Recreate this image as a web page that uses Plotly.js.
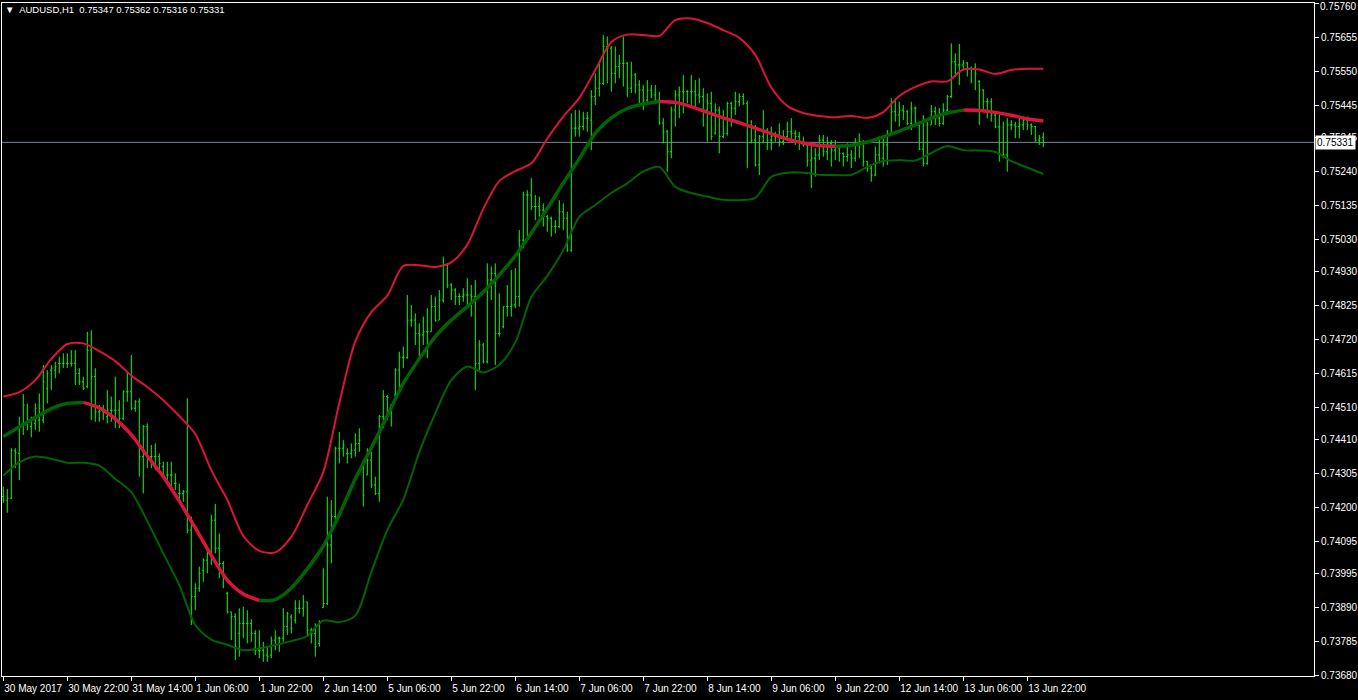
<!DOCTYPE html>
<html><head><meta charset="utf-8">
<script src="https://cdn.plot.ly/plotly-3.0.1.min.js"></script>
<style>html,body{margin:0;padding:0;background:#000;overflow:hidden}#chart{width:1358px;height:700px}</style>
</head><body><div id="chart"></div>
<script>
// ---- time axis (H1 bars, index 0 = 30 May 2017 06:00) ----
const tickLabels = ["30 May 2017","30 May 22:00","31 May 14:00","1 Jun 06:00","1 Jun 22:00","2 Jun 14:00","5 Jun 06:00","5 Jun 22:00","6 Jun 14:00","7 Jun 06:00","7 Jun 22:00","8 Jun 14:00","9 Jun 06:00","9 Jun 22:00","12 Jun 14:00","13 Jun 06:00","13 Jun 22:00"];
const tickBars = [0,16,32,48,64,80,96,112,128,144,160,176,192,208,224,240,256];

// ---- price axis ----
const priceTicks = [0.75760,0.75655,0.75550,0.75445,0.75345,0.75240,0.75135,0.75030,0.74930,0.74825,0.74720,0.74615,0.74510,0.74410,0.74305,0.74200,0.74095,0.73995,0.73890,0.73785,0.73680];
const lastPrice = 0.75331;
const headerText = "AUDUSD,H1  0.75347 0.75362 0.75316 0.75331";

// ---- OHLC ----
const open = [
0.74233,0.74222,0.74228,0.74375,0.74367,0.74455,0.74460,0.74450,0.74460,0.74470,
0.74470,0.74567,0.74625,0.74625,0.74646,0.74646,0.74646,0.74646,0.74646,0.74615,
0.74589,0.74574,0.74687,0.74605,0.74496,0.74496,0.74481,0.74501,0.74501,0.74501,
0.74476,0.74558,0.74558,0.74507,0.74527,0.74357,0.74450,0.74357,0.74357,0.74357,
0.74326,0.74300,0.74300,0.74274,0.74243,0.74243,0.74248,0.74129,0.73923,0.73949,
0.74005,0.74036,0.74057,0.74160,0.74073,0.74026,0.73933,0.73876,0.73861,0.73809,
0.73840,0.73840,0.73840,0.73809,0.73757,0.73757,0.73742,0.73742,0.73788,0.73794,
0.73794,0.73830,0.73860,0.73850,0.73887,0.73887,0.73907,0.73819,0.73809,0.73778,
0.73890,0.73902,0.74083,0.74171,0.74383,0.74383,0.74367,0.74367,0.74377,0.74398,
0.74341,0.74300,0.74346,0.74269,0.74243,0.74481,0.74543,0.74517,0.74548,0.74625,
0.74665,0.74665,0.74780,0.74780,0.74739,0.74734,0.74744,0.74744,0.74822,0.74780,
0.74842,0.74951,0.74889,0.74873,0.74853,0.74853,0.74858,0.74858,0.74853,0.74646,
0.74703,0.74651,0.74904,0.74925,0.74739,0.74760,0.74822,0.74822,0.74827,0.74853,
0.75028,0.75168,0.75168,0.75132,0.75132,0.75121,0.75101,0.75096,0.75070,0.75070,
0.75116,0.75096,0.74997,0.75375,0.75375,0.75380,0.75406,0.75400,0.75473,0.75499,
0.75514,0.75628,0.75623,0.75545,0.75566,0.75576,0.75576,0.75499,0.75540,0.75509,
0.75493,0.75462,0.75493,0.75478,0.75462,0.75391,0.75364,0.75302,0.75431,0.75478,
0.75488,0.75488,0.75488,0.75488,0.75478,0.75473,0.75431,0.75452,0.75360,0.75431,
0.75349,0.75359,0.75452,0.75437,0.75457,0.75473,0.75452,0.75380,0.75338,0.75261,
0.75350,0.75369,0.75338,0.75349,0.75349,0.75333,0.75349,0.75364,0.75359,0.75349,
0.75328,0.75323,0.75276,0.75282,0.75292,0.75338,0.75302,0.75328,0.75307,0.75314,
0.75297,0.75287,0.75292,0.75282,0.75323,0.75333,0.75271,0.75251,0.75230,0.75292,
0.75282,0.75323,0.75359,0.75426,0.75416,0.75431,0.75426,0.75390,0.75437,0.75385,
0.75310,0.75266,0.75385,0.75426,0.75406,0.75390,0.75431,0.75473,0.75581,0.75571,
0.75571,0.75577,0.75561,0.75561,0.75520,0.75493,0.75457,0.75457,0.75416,0.75379,
0.75292,0.75292,0.75385,0.75385,0.75380,0.75385,0.75400,0.75385,0.75380,0.75338,
0.75347];
const high = [
0.74264,0.74257,0.74383,0.74383,0.74481,0.74551,0.74522,0.74481,0.74522,0.74553,
0.74641,0.74625,0.74641,0.74651,0.74667,0.74677,0.74677,0.74687,0.74687,0.74631,
0.74605,0.74744,0.74749,0.74631,0.74517,0.74517,0.74563,0.74543,0.74605,0.74532,
0.74563,0.74620,0.74672,0.74532,0.74538,0.74455,0.74460,0.74393,0.74398,0.74367,
0.74341,0.74341,0.74341,0.74305,0.74274,0.74253,0.74538,0.74171,0.73964,0.74016,
0.74042,0.74078,0.74176,0.74210,0.74119,0.74033,0.73938,0.73876,0.73871,0.73887,
0.73892,0.73881,0.73853,0.73819,0.73819,0.73783,0.73768,0.73799,0.73819,0.73799,
0.73887,0.73876,0.73868,0.73912,0.73912,0.73928,0.73907,0.73826,0.73840,0.73850,
0.74011,0.74233,0.74222,0.74388,0.74434,0.74408,0.74383,0.74398,0.74429,0.74445,
0.74346,0.74383,0.74372,0.74295,0.74486,0.74563,0.74548,0.74520,0.74631,0.74682,
0.74698,0.74858,0.74827,0.74801,0.74770,0.74791,0.74817,0.74858,0.74853,0.74873,
0.74977,0.74956,0.74895,0.74879,0.74863,0.74879,0.74910,0.74889,0.74904,0.74718,
0.74709,0.74956,0.74946,0.74956,0.74863,0.74822,0.74889,0.74935,0.74941,0.75059,
0.75178,0.75183,0.75220,0.75168,0.75163,0.75142,0.75106,0.75101,0.75090,0.75152,
0.75142,0.75116,0.75421,0.75431,0.75431,0.75426,0.75426,0.75493,0.75545,0.75576,
0.75664,0.75659,0.75630,0.75628,0.75602,0.75659,0.75580,0.75581,0.75546,0.75524,
0.75509,0.75524,0.75509,0.75509,0.75488,0.75406,0.75369,0.75442,0.75493,0.75504,
0.75540,0.75493,0.75540,0.75524,0.75530,0.75499,0.75483,0.75488,0.75452,0.75442,
0.75431,0.75457,0.75457,0.75488,0.75483,0.75483,0.75460,0.75400,0.75385,0.75354,
0.75431,0.75375,0.75380,0.75364,0.75390,0.75369,0.75395,0.75406,0.75369,0.75364,
0.75349,0.75326,0.75323,0.75313,0.75354,0.75354,0.75349,0.75338,0.75338,0.75318,
0.75300,0.75328,0.75307,0.75344,0.75359,0.75338,0.75274,0.75261,0.75318,0.75349,
0.75344,0.75369,0.75468,0.75468,0.75457,0.75447,0.75431,0.75457,0.75442,0.75390,
0.75416,0.75395,0.75447,0.75442,0.75437,0.75452,0.75478,0.75638,0.75607,0.75636,
0.75586,0.75580,0.75566,0.75576,0.75524,0.75496,0.75468,0.75468,0.75421,0.75416,
0.75395,0.75406,0.75400,0.75395,0.75406,0.75411,0.75411,0.75390,0.75382,0.75354,
0.75362];
const low = [
0.74214,0.74183,0.74226,0.74321,0.74284,0.74424,0.74439,0.74417,0.74439,0.74434,
0.74460,0.74522,0.74563,0.74600,0.74615,0.74631,0.74631,0.74636,0.74579,0.74579,
0.74563,0.74569,0.74470,0.74465,0.74465,0.74470,0.74460,0.74465,0.74445,0.74445,
0.74470,0.74527,0.74501,0.74496,0.74295,0.74243,0.74321,0.74321,0.74315,0.74310,
0.74295,0.74274,0.74264,0.74253,0.74217,0.74217,0.74119,0.73835,0.73881,0.73938,
0.73969,0.73995,0.74021,0.74057,0.73980,0.73949,0.73871,0.73788,0.73726,0.73737,
0.73794,0.73778,0.73783,0.73742,0.73732,0.73721,0.73721,0.73732,0.73757,0.73752,
0.73783,0.73804,0.73809,0.73840,0.73871,0.73861,0.73804,0.73778,0.73737,0.73768,
0.73887,0.73897,0.74026,0.74160,0.74336,0.74357,0.74336,0.74352,0.74357,0.74372,
0.74202,0.74300,0.74259,0.74238,0.74217,0.74445,0.74470,0.74450,0.74532,0.74563,
0.74631,0.74660,0.74760,0.74703,0.74669,0.74703,0.74662,0.74744,0.74775,0.74780,
0.74835,0.74879,0.74842,0.74827,0.74827,0.74837,0.74827,0.74791,0.74563,0.74625,
0.74646,0.74646,0.74842,0.74641,0.74729,0.74755,0.74791,0.74791,0.74817,0.74822,
0.75003,0.75039,0.75121,0.75090,0.75101,0.75070,0.75054,0.75039,0.75049,0.75065,
0.75059,0.74992,0.74992,0.75349,0.75349,0.75369,0.75364,0.75307,0.75447,0.75473,
0.75509,0.75514,0.75488,0.75514,0.75530,0.75504,0.75472,0.75484,0.75483,0.75452,
0.75431,0.75455,0.75468,0.75457,0.75385,0.75328,0.75240,0.75282,0.75380,0.75406,
0.75421,0.75452,0.75442,0.75442,0.75452,0.75380,0.75333,0.75338,0.75355,0.75297,
0.75344,0.75352,0.75380,0.75416,0.75442,0.75447,0.75251,0.75328,0.75256,0.75230,
0.75328,0.75307,0.75307,0.75333,0.75318,0.75323,0.75338,0.75333,0.75323,0.75307,
0.75318,0.75256,0.75189,0.75225,0.75276,0.75287,0.75276,0.75256,0.75276,0.75271,
0.75256,0.75271,0.75251,0.75271,0.75282,0.75256,0.75240,0.75209,0.75226,0.75266,
0.75256,0.75261,0.75355,0.75395,0.75380,0.75400,0.75385,0.75369,0.75390,0.75307,
0.75256,0.75262,0.75385,0.75385,0.75380,0.75385,0.75416,0.75468,0.75535,0.75509,
0.75555,0.75535,0.75514,0.75493,0.75385,0.75431,0.75406,0.75395,0.75375,0.75271,
0.75282,0.75240,0.75369,0.75344,0.75344,0.75369,0.75369,0.75354,0.75333,0.75323,
0.75316];
const close = [
0.74222,0.74228,0.74377,0.74369,0.74450,0.74517,0.74470,0.74470,0.74507,0.74507,
0.74589,0.74615,0.74631,0.74636,0.74646,0.74646,0.74646,0.74646,0.74615,0.74589,
0.74569,0.74687,0.74605,0.74496,0.74496,0.74501,0.74501,0.74501,0.74501,0.74476,
0.74558,0.74558,0.74507,0.74527,0.74357,0.74450,0.74357,0.74357,0.74357,0.74336,
0.74300,0.74300,0.74300,0.74274,0.74243,0.74248,0.74129,0.73923,0.73949,0.73995,
0.74036,0.74057,0.74160,0.74073,0.74026,0.73995,0.73876,0.73861,0.73768,0.73840,
0.73840,0.73840,0.73809,0.73757,0.73757,0.73742,0.73737,0.73788,0.73794,0.73794,
0.73830,0.73871,0.73825,0.73887,0.73887,0.73907,0.73819,0.73809,0.73768,0.73840,
0.73902,0.74083,0.74171,0.74383,0.74383,0.74393,0.74367,0.74377,0.74398,0.74408,
0.74238,0.74346,0.74269,0.74243,0.74481,0.74543,0.74540,0.74515,0.74625,0.74665,
0.74665,0.74780,0.74780,0.74739,0.74734,0.74744,0.74744,0.74822,0.74780,0.74842,
0.74951,0.74889,0.74873,0.74853,0.74853,0.74858,0.74858,0.74853,0.74646,0.74703,
0.74651,0.74904,0.74925,0.74739,0.74739,0.74822,0.74822,0.74827,0.74853,0.75028,
0.75168,0.75168,0.75132,0.75132,0.75121,0.75101,0.75096,0.75070,0.75070,0.75116,
0.75096,0.74997,0.75375,0.75375,0.75380,0.75406,0.75406,0.75473,0.75499,0.75514,
0.75628,0.75623,0.75545,0.75566,0.75576,0.75576,0.75499,0.75540,0.75509,0.75493,
0.75462,0.75493,0.75478,0.75462,0.75391,0.75364,0.75302,0.75431,0.75478,0.75488,
0.75488,0.75488,0.75488,0.75478,0.75473,0.75431,0.75452,0.75349,0.75431,0.75349,
0.75359,0.75452,0.75437,0.75457,0.75473,0.75452,0.75380,0.75338,0.75261,0.75350,
0.75369,0.75338,0.75349,0.75349,0.75333,0.75349,0.75364,0.75359,0.75349,0.75328,
0.75323,0.75276,0.75282,0.75292,0.75338,0.75302,0.75328,0.75307,0.75314,0.75297,
0.75287,0.75292,0.75282,0.75323,0.75333,0.75271,0.75251,0.75230,0.75292,0.75282,
0.75323,0.75359,0.75426,0.75416,0.75431,0.75426,0.75390,0.75437,0.75437,0.75310,
0.75266,0.75385,0.75426,0.75406,0.75390,0.75431,0.75473,0.75581,0.75571,0.75571,
0.75577,0.75561,0.75561,0.75545,0.75493,0.75457,0.75457,0.75416,0.75379,0.75292,
0.75292,0.75385,0.75385,0.75380,0.75385,0.75400,0.75385,0.75380,0.75338,0.75344,
0.75331];

// ---- bands, sampled every 4th bar ----
const bandStep = 4;
const upper = [
0.74543,0.74557,0.74594,0.74660,0.74706,0.74708,0.74684,0.74653,0.74608,0.74573,
0.74532,0.74483,0.74427,0.74315,0.74223,0.74111,0.74065,0.74060,0.74108,0.74207,
0.74309,0.74523,0.74714,0.74805,0.74856,0.74948,0.74950,0.74945,0.74959,0.75014,
0.75125,0.75211,0.75242,0.75266,0.75343,0.75411,0.75469,0.75555,0.75642,0.75665,
0.75664,0.75661,0.75710,0.75715,0.75701,0.75679,0.75655,0.75602,0.75501,0.75444,
0.75422,0.75413,0.75409,0.75413,0.75407,0.75425,0.75475,0.75503,0.75520,0.75520,
0.75557,0.75557,0.75543,0.75555,0.75559,0.75559];
const middle = [
0.74419,0.74449,0.74478,0.74506,0.74522,0.74525,0.74508,0.74474,0.74425,0.74359,
0.74295,0.74219,0.74136,0.74051,0.73974,0.73931,0.73911,0.73914,0.73950,0.74009,
0.74080,0.74177,0.74288,0.74384,0.74483,0.74584,0.74660,0.74729,0.74780,0.74822,
0.74867,0.74920,0.74979,0.75050,0.75126,0.75205,0.75280,0.75360,0.75407,0.75436,
0.75450,0.75458,0.75455,0.75442,0.75424,0.75407,0.75392,0.75375,0.75358,0.75341,
0.75329,0.75321,0.75319,0.75322,0.75332,0.75348,0.75366,0.75385,0.75406,0.75422,
0.75431,0.75430,0.75424,0.75415,0.75404,0.75397];
const lower = [
0.74298,0.74339,0.74357,0.74350,0.74338,0.74338,0.74329,0.74288,0.74247,0.74157,
0.74057,0.73959,0.73835,0.73790,0.73774,0.73757,0.73762,0.73773,0.73785,0.73801,
0.73849,0.73844,0.73864,0.73999,0.74129,0.74224,0.74371,0.74491,0.74594,0.74636,
0.74618,0.74642,0.74711,0.74852,0.74917,0.74997,0.75100,0.75137,0.75174,0.75204,
0.75241,0.75255,0.75193,0.75174,0.75163,0.75153,0.75152,0.75159,0.75224,0.75237,
0.75237,0.75231,0.75230,0.75230,0.75255,0.75273,0.75276,0.75275,0.75298,0.75320,
0.75307,0.75306,0.75301,0.75273,0.75253,0.75233];

const BAR = '#00FF00', RED = '#DC143C', DGREEN = '#006400', WHITE = '#FFFFFF';
const FONT = 'Liberation Sans, Arial, sans-serif';

const barX = open.map((_, i) => i);
const bandX = upper.map((_, k) => k * bandStep);

const traces = [{
  type: 'ohlc', x: barX, open: open, high: high, low: low, close: close,
  increasing: {line: {color: BAR, width: 1}},
  decreasing: {line: {color: BAR, width: 1}},
  tickwidth: 0.3, hoverinfo: 'skip', showlegend: false
}, {
  type: 'scatter', mode: 'lines', x: bandX, y: upper,
  line: {color: RED, width: 2, shape: 'spline', smoothing: 0.8},
  hoverinfo: 'skip', showlegend: false
}, {
  type: 'scatter', mode: 'lines', x: bandX, y: lower,
  line: {color: DGREEN, width: 2, shape: 'spline', smoothing: 0.8},
  hoverinfo: 'skip', showlegend: false
}];

// middle line: green while rising, red while falling
let runs = [], cur = null;
for (let k = 0; k < middle.length - 1; k++) {
  const c = middle[k + 1] >= middle[k] ? DGREEN : RED;
  if (!cur || cur.color !== c) { cur = {color: c, xs: [bandX[k]], ys: [middle[k]]}; runs.push(cur); }
  cur.xs.push(bandX[k + 1]); cur.ys.push(middle[k + 1]);
}
runs.forEach(r => traces.push({
  type: 'scatter', mode: 'lines', x: r.xs, y: r.ys,
  line: {color: r.color, width: 3.5, shape: 'spline', smoothing: 0.8},
  hoverinfo: 'skip', showlegend: false
}));

const topTick = priceTicks[0];

const layout = {
  width: 1358, height: 700,
  paper_bgcolor: '#000000', plot_bgcolor: '#000000',
  margin: {l: 2, r: 44, t: 3, b: 24},
  showlegend: false,
  title: {text: '\u25BC  ' + headerText, x: 5 / 1358, xanchor: 'left', xref: 'container',
          y: 1 - 10 / 700, yanchor: 'middle', yref: 'container',
          font: {color: WHITE, size: 9.5, family: FONT}},
  xaxis: {
    range: [-0.325, 327.675], showgrid: false, zeroline: false,
    showline: true, linecolor: WHITE, linewidth: 1, mirror: true,
    ticks: 'outside', ticklen: 4, tickcolor: WHITE, tickwidth: 1,
    tickmode: 'array', tickvals: tickBars, ticktext: tickLabels,
    tickangle: 0, ticklabelposition: 'outside right', ticklabeloverflow: 'allow',
    ticklabelstandoff: 3,
    tickfont: {color: WHITE, size: 10, family: FONT},
    rangeslider: {visible: false}, fixedrange: true
  },
  yaxis: {
    side: 'right', range: [0.73677, 0.75763], showgrid: false, zeroline: false,
    showline: true, linecolor: WHITE, linewidth: 1, mirror: true,
    ticks: 'outside', ticklen: 4, tickcolor: WHITE, tickwidth: 1,
    tickmode: 'array', tickvals: priceTicks,
    ticktext: priceTicks.map(v => v === topTick ? '' : v.toFixed(5)),
    ticklabeloverflow: 'allow',
    tickfont: {color: WHITE, size: 10, family: FONT}, fixedrange: true
  },
  shapes: [{
    type: 'line', xref: 'paper', x0: 0, x1: 1, yref: 'y', y0: lastPrice, y1: lastPrice,
    line: {color: '#778899', width: 1}, layer: 'below'
  }],
  annotations: [{
    // top price label, kept fully inside the picture
    xref: 'paper', x: 1, xanchor: 'left', xshift: 5, yref: 'paper', y: 1, yanchor: 'top', yshift: 3,
    text: topTick.toFixed(5), showarrow: false, borderpad: 0,
    font: {color: WHITE, size: 10, family: FONT}
  }, {
    xref: 'paper', x: 1, xanchor: 'left', xshift: 1, yref: 'y', y: lastPrice, yanchor: 'middle',
    text: lastPrice.toFixed(5), showarrow: false, bgcolor: WHITE, borderpad: 1,
    font: {color: '#000000', size: 10, family: FONT}
  }]
};

Plotly.newPlot('chart', traces, layout, {staticPlot: true, displayModeBar: false});
</script>
</body></html>
